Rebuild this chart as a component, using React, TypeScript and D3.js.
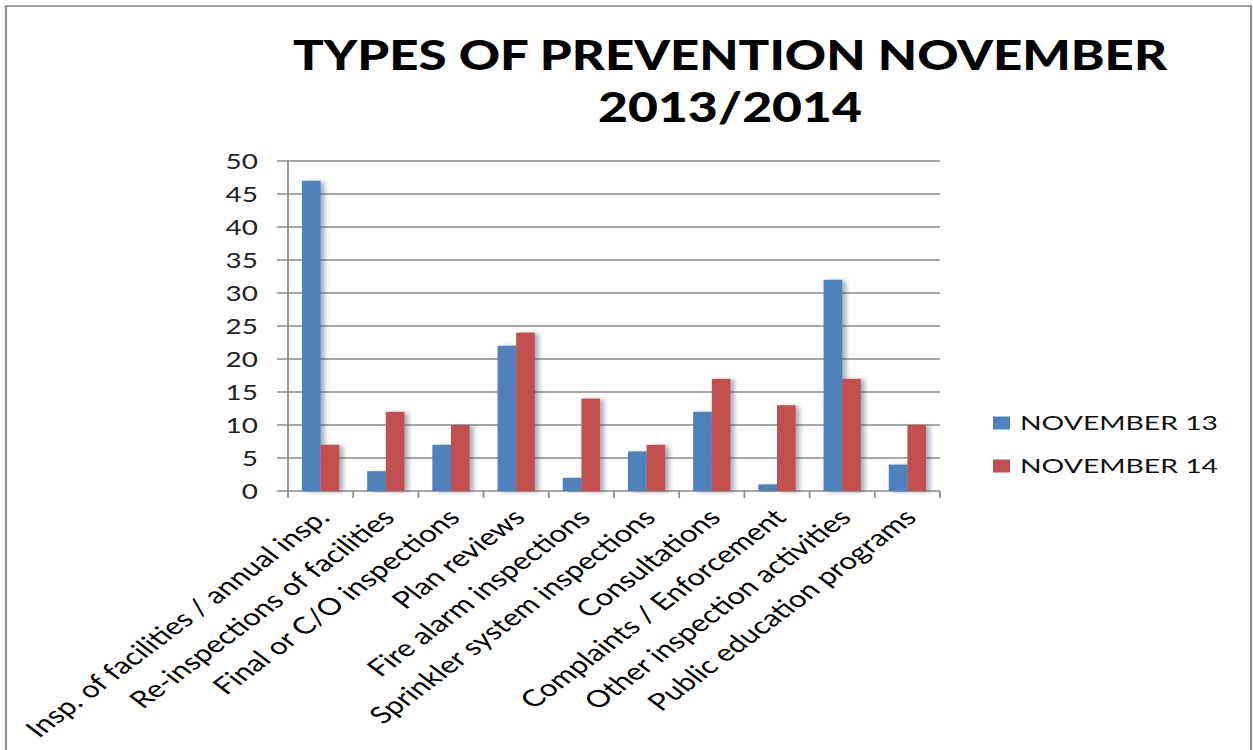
import * as d3 from "d3";

// the reference is a horizontally stretched screenshot, so draw in native units and scale x
const SX = 1.33;

const categories = [
  "Insp. of facilities / annual insp.",
  "Re-inspections of facilities",
  "Final or C/O inspections",
  "Plan reviews",
  "Fire alarm inspections",
  "Sprinkler system inspections",
  "Consultations",
  "Complaints / Enforcement",
  "Other inspection activities",
  "Public education programs",
];
const nov13 = [47, 3, 7, 22, 2, 6, 12, 1, 32, 4];
const nov14 = [7, 12, 10, 24, 14, 7, 17, 13, 17, 10];
const seriesNames = ["NOVEMBER 13", "NOVEMBER 14"];
const seriesColors = ["#4f81bd", "#c0504d"];
const yTicks = [0, 5, 10, 15, 20, 25, 30, 35, 40, 45, 50];

const FONT = "Lato, 'Open Sans', sans-serif";

export default function App() {
  const x = d3.scaleBand().domain(categories).range([288 / SX, 940 / SX]);
  const inner = d3.scaleBand<number>().domain([0, 1]).range([0, x.bandwidth()]).paddingOuter(0.75);
  const y = d3.scaleLinear().domain([0, 50]).range([491, 161]);
  const [x0, x1] = x.range();
  const series = [nov13, nov14];
  const boundaries = categories.map((c) => x(c)!).concat([x1]);

  return (
    <svg width={1253} height={750} style={{ position: "absolute", left: 0, top: 0, background: "#fff" }}>
      <defs>
        <filter id="shadow" x="-20%" y="-10%" width="160%" height="120%">
          <feDropShadow dx="3" dy="1" stdDeviation="2" floodColor="#3a4a6a" floodOpacity="0.45" />
        </filter>
      </defs>
      <g transform={`scale(${SX},1)`}>
        <rect x={6 / SX} y={6} width={(1251 - 6) / SX} height={800} fill="none" stroke="#8c8c8c" strokeWidth={1.6} />

        <text x={730 / SX} y={70} textAnchor="middle" fontFamily={FONT} fontWeight={900} fontSize={42}
          textLength={874 / SX} lengthAdjust="spacingAndGlyphs" fill="#000">TYPES OF PREVENTION NOVEMBER</text>
        <text x={730 / SX} y={122} textAnchor="middle" fontFamily={FONT} fontWeight={900} fontSize={42}
          textLength={264 / SX} lengthAdjust="spacingAndGlyphs" fill="#000">2013/2014</text>

        {yTicks.map((t) => (
          <g key={t}>
            <line x1={277 / SX} x2={x1} y1={y(t)} y2={y(t)} stroke="#8a8a8a" strokeWidth={1.3} />
            <text x={258 / SX} y={y(t)} dy="0.36em" textAnchor="end" fontFamily={FONT} fontSize={21} fill="#222">{t}</text>
          </g>
        ))}
        <line x1={x0} x2={x0} y1={y(50)} y2={y(0)} stroke="#8a8a8a" strokeWidth={1.3} />
        {boundaries.map((b, i) => (
          <line key={i} x1={b} x2={b} y1={y(0)} y2={y(0) + 7} stroke="#8a8a8a" strokeWidth={1.3} />
        ))}

        {categories.map((c) => (
          <g key={c} transform={`translate(${x(c)},0)`}>
            {series.map((s, si) => {
              const v = s[categories.indexOf(c)];
              return (
                <rect key={si} x={inner(si)} width={inner.bandwidth()} y={y(v)} height={y(0) - y(v)}
                  fill={seriesColors[si]} filter="url(#shadow)" />
              );
            })}
          </g>
        ))}

        {categories.map((c) => {
          const cx = x(c)! + x.bandwidth() / 2 - 2;
          return (
            <text key={c} transform={`translate(${cx},${y(0) + 18}) rotate(-45)`} textAnchor="end" dy="0.6em"
              fontFamily={FONT} fontSize={23.5} fill="#000">{c}</text>
          );
        })}

        {seriesNames.map((n, i) => {
          const cy = 423 + i * 43;
          return (
            <g key={n}>
              <rect x={993 / SX} y={cy - 6.5} width={17 / SX} height={13} fill={seriesColors[i]} />
              <text x={1020 / SX} y={cy} dy="0.36em" fontFamily={FONT} fontSize={20} fill="#111"
                textLength={198 / SX} lengthAdjust="spacingAndGlyphs">{n}</text>
            </g>
          );
        })}
      </g>
    </svg>
  );
}
